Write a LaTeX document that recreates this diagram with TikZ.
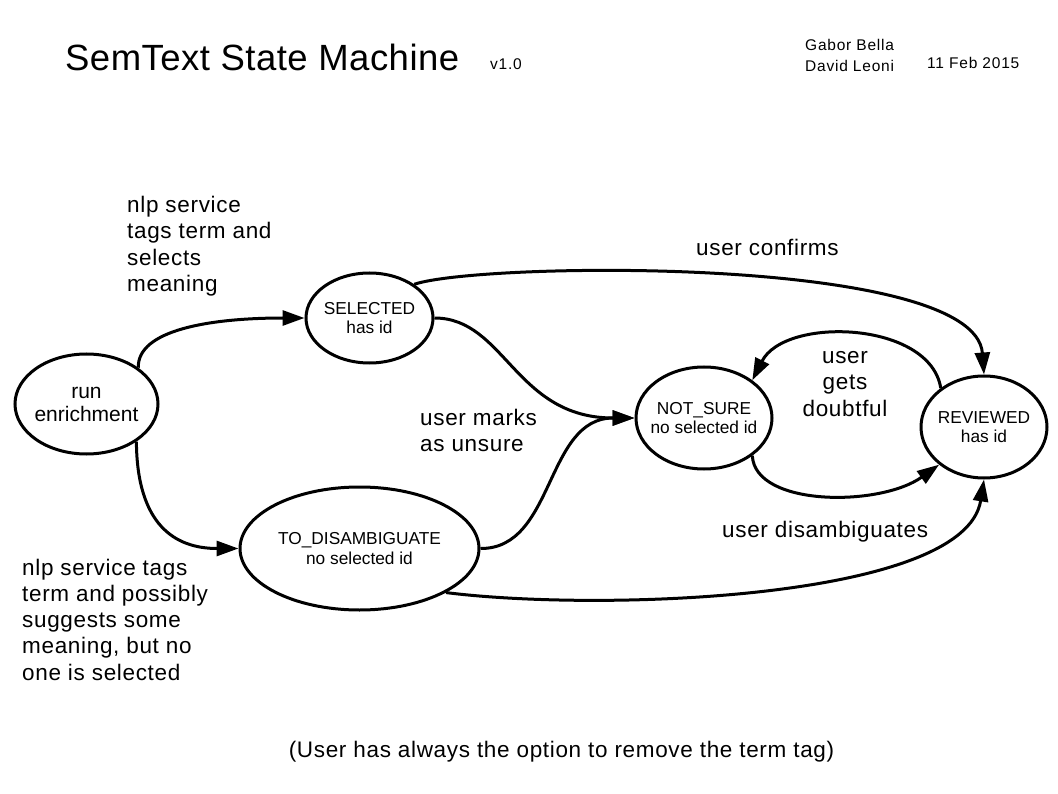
\documentclass[tikz,border=0pt]{standalone}
\usepackage{fontspec}
\setmainfont{Liberation Sans}
\newfontfamily\lblfont[LetterSpace=3]{Liberation Sans}
\newfontfamily\smallfont[LetterSpace=5]{Liberation Sans}
\newfontfamily\titlefont[LetterSpace=1.3]{Liberation Sans}
\usetikzlibrary{shapes.geometric,arrows.meta}
\newcommand{\zw}[1]{\makebox[0pt]{#1}}
\begin{document}
\begin{tikzpicture}[x=1pt,y=-1pt,
  state/.style={draw,ellipse,line width=3pt,inner sep=0pt,align=center,font=\fontsize{17.3}{19.5}\selectfont},
  lbl/.style={inner sep=0pt,font=\lblfont\fontsize{22.5}{26.5}\selectfont},
  small/.style={inner sep=0pt,font=\smallfont\fontsize{15.5}{20.5}\selectfont},
  edge/.style={line width=3pt,-{Triangle[length=22pt,width=15pt]}},
]
\useasboundingbox (0,0) rectangle (1058,794);
% states
\node[state,minimum width=143pt,minimum height=100pt,font=\fontsize{21}{23}\selectfont] (run) at (86.5,404) {\zw{run}\\\zw{enrichment}};
\node[state,minimum width=127pt,minimum height=90pt] (sel) at (369.5,318) {\zw{SELECTED}\\\zw{has id}};
\node[state,minimum width=239pt,minimum height=123pt] (td) at (359.5,548.5) {\zw{TO\_DISAMBIGUATE}\\\zw{no selected id}};
\node[state,minimum width=136pt,minimum height=102pt] (ns) at (704,418) {\zw{NOT\_SURE}\\\zw{no selected id}};
\node[state,minimum width=126pt,minimum height=102pt] (rev) at (984,427) {\zw{REVIEWED}\\\zw{has id}};
% edges
\draw[edge] (run.35) .. controls (137,330) and (210,318) .. (sel.west);
\draw[edge] (run.-37) .. controls (137,525) and (175,548.5) .. (td.west);
\draw[edge] (sel.east) .. controls (505,318) and (515,418) .. (ns.west);
\draw[edge] (td.east) .. controls (555,549) and (545,418) .. (ns.west);
\draw[edge] (sel.37) .. controls (480,262) and (975,255) .. (rev.north);
\draw[edge] (rev.138) .. controls (930,321) and (785,316) .. (ns.38);
\draw[edge] (ns.-38) .. controls (755,507) and (880,507) .. (rev.220);
\draw[edge] (td.-27) .. controls (600,612) and (965,600) .. (rev.south);
% texts
\node[anchor=base west,inner sep=0pt,font=\titlefont\fontsize{36.5}{40}\selectfont] (title) at (65,71) {SemText State Machine};
\node[small,anchor=base west] (ver) at (490,70) {v1.0};
\node[small,anchor=base west,align=left] (auth) at (805,71.5) {Gabor Bella\\David Leoni};
\node[small,anchor=base west] (date) at (927,68.5) {11 Feb 2015};
\node[lbl,anchor=base west,align=left] (l1) at (127,292) {nlp service\\tags term and\\selects\\meaning};
\node[lbl,anchor=base west,align=left,font=\lblfont\fontsize{22.5}{26.2}\selectfont] (l2) at (22,680) {nlp service tags\\term and possibly\\suggests some\\meaning, but no\\one is selected};
\node[lbl,anchor=base west] (l3) at (696,256) {user confirms};
\node[lbl,anchor=base west,align=left] (l4) at (420,451.7) {user marks\\as unsure};
\node[lbl,anchor=base,align=center] (l5) at (845,416) {user\\gets\\doubtful};
\node[lbl,anchor=base west] (l6) at (722,537) {user disambiguates};
\node[lbl,anchor=base] (note) at (561.5,757) {(User has always the option to remove the term tag)};
\end{tikzpicture}
\end{document}
